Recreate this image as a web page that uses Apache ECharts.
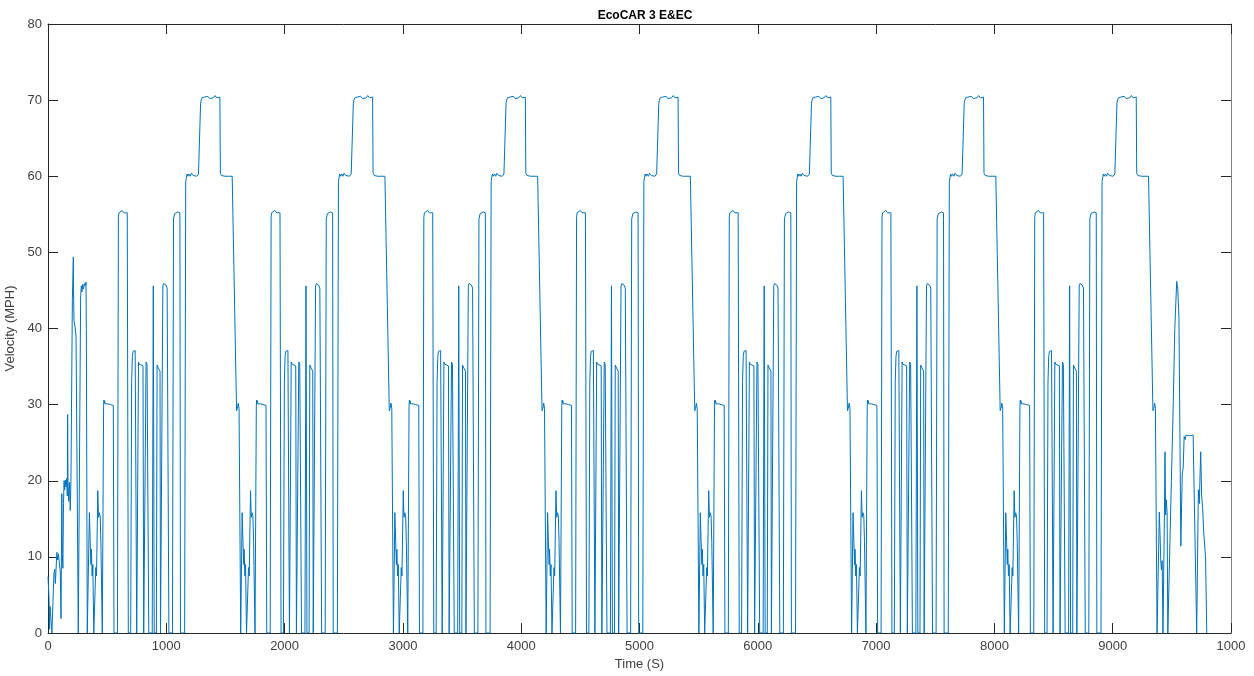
<!DOCTYPE html>
<html>
<head>
<meta charset="utf-8">
<script src="https://cdn.jsdelivr.net/npm/echarts@6/dist/echarts.min.js"></script>
<style>
  html, body { margin: 0; padding: 0; background: #fff; }
  #chart { width: 1254px; height: 676px; }
</style>
</head>
<body>
<div id="chart"></div>
<script>
// cold start at the beginning of the run: [time s, mph]
var coldStart = [
  [0, 7.4], [5, 7.3], [9, 4.5], [13, 0.5], [17, 3.5], [27, 3.3], [33, 0], [44, 0],
  [50, 7.8], [57, 8.4], [62, 6.5], [68, 8.3], [75, 10.6], [82, 9.6], [88, 10.4],
  [96, 10.3], [104, 8], [110, 1.9], [117, 18.3], [121, 10.3], [126, 8.5], [131, 17],
  [136, 20], [141, 18.8], [146, 20.1], [152, 19.2], [158, 20.3], [163, 18], [166, 28.7],
  [169, 20], [175, 17.3], [182, 19.8], [188, 16.1], [194, 20], [206, 43.8], [214, 49.4],
  [217, 43.5], [220, 41], [228, 40.3], [237, 39], [256, 0], [268, 0], [276, 44.3],
  [282, 45.6], [287, 44.8], [293, 45.8], [300, 45.2], [308, 45.9], [316, 45.6],
  [321, 46.1], [324, 40], [332, 0]
];

// one repeat of the cycle, time relative to the rise to the 30 mph step
var cycle = [
  [-124, 0], [-117, 15.8], [-110, 12], [-104, 9], [-100, 11], [-94, 7.5], [-88, 9], [-80, 0],
  [-68, 0], [-63, 8.6], [-57, 7.5], [-46, 18.7], [-40, 15.2], [-33, 15.8], [-26, 15.4],
  [-20, 12], [-8, 0],
  [0, 0], [3, 29.8], [6, 30.6], [9, 30.2], [12, 30.5], [16, 30.1], [40, 30.1], [60, 30.0],
  [85, 29.9], [91, 0],
  [120, 0], [128, 54.6], [133, 55.2], [145, 55.1], [160, 55.5], [175, 55.2], [190, 55.4],
  [203, 55.2], [212, 0],
  [232, 0], [240, 33], [246, 36.3], [252, 37], [270, 37.1], [276, 37], [283, 0],
  [292, 0], [298, 35.6], [305, 35.3], [336, 35.1], [342, 0],
  [356, 0], [362, 35.6], [370, 35.3], [380, 35.2], [385, 0],
  [414, 0], [423, 45.6], [431, 0],
  [449, 0], [455, 35.2], [466, 34.8], [480, 34.4], [484, 0],
  [496, 0], [504, 45.6], [510, 45.9], [530, 45.7], [540, 45.3], [550, 45.2], [555, 0],
  [585, 0], [594, 54.4], [604, 55.1], [630, 55.3], [648, 55.2], [653, 0],
  [688, 0], [697, 59.3], [702, 59.8], [708, 60.3], [715, 60.0], [725, 60.3], [735, 60.0],
  [745, 60.4], [760, 60.1], [775, 60.3], [790, 60.0], [805, 60.3], [818, 60.2],
  [823, 69.6], [828, 70.0], [835, 70.3], [845, 70.1], [855, 70.4], [870, 70.2], [885, 70.5],
  [900, 70.2], [915, 70.4], [930, 70.3], [945, 70.6], [960, 70.3], [975, 70.5], [986, 70.4],
  [990, 60.4], [1000, 60.1], [1015, 60.3], [1030, 60.0], [1045, 60.2], [1060, 60.0],
  [1075, 60.2], [1090, 60.0], [1099, 60.0], [1127, 29.2], [1134, 29.5], [1141, 30.2],
  [1148, 29.5], [1162, 0]
];

// time of the 30 mph step in each repeat
var cycleStarts = [467, 1758, 3049, 4340, 5631, 6922, 8213];

// the tail after the last repeat
var tail = [
  [9386, 0], [9394, 15.9], [9400, 13], [9406, 9.6], [9412, 8.3], [9418, 9.5], [9425, 0],
  [9432, 0], [9437, 15.5], [9442, 23.8], [9447, 15.5], [9453, 17.5], [9460, 15.8],
  [9466, 0], [9478, 0], [9496, 20], [9512, 30.2], [9525, 40], [9541, 46.2], [9550, 45.2],
  [9560, 41.5], [9576, 11.4], [9588, 20.9], [9596, 21.7], [9604, 25.8], [9612, 25.4],
  [9620, 26], [9650, 25.9], [9680, 26], [9696, 25.8], [9710, 0], [9724, 18.8], [9732, 17],
  [9744, 23.8], [9752, 18], [9760, 16.5], [9770, 13.1], [9785, 10], [9795, 0]
];

var xTicks = { min: 0, max: 10000, interval: 1000 };
var yTicks = { min: 0, max: 80, interval: 10 };

var speed = coldStart.slice();
cycleStarts.forEach(function (t0) {
  cycle.forEach(function (p) { speed.push([t0 + p[0], p[1]]); });
});
speed = speed.concat(tail);

var axisColor = '#262626';
var labelStyle = { color: '#404040', fontSize: 13, fontFamily: 'Liberation Sans, Arial, sans-serif' };

var chart = echarts.init(document.getElementById('chart'));
chart.setOption({
  animation: false,
  title: {
    text: 'EcoCAR 3 E&EC',
    left: 640,
    textAlign: 'center',
    top: 5,
    textStyle: { fontSize: 12, fontWeight: 'bold', color: '#000', fontFamily: 'Liberation Sans, Arial, sans-serif' }
  },
  grid: { left: 48, right: 23, top: 24, bottom: 43, containLabel: false, outerBoundsMode: 'none' },
  xAxis: [{
    type: 'value',
    min: xTicks.min, max: xTicks.max, interval: xTicks.interval,
    name: 'Time (S)', nameLocation: 'middle', nameGap: 22,
    nameTextStyle: labelStyle,
    axisLine: { lineStyle: { color: axisColor } },
    axisTick: { inside: true, length: 10, lineStyle: { color: axisColor } },
    axisLabel: Object.assign({ margin: 7, formatter: function (v) { return v === 10000 ? '1000' : String(v); } }, labelStyle),
    splitLine: { show: false }
  }, {
    type: 'value', position: 'top',
    min: xTicks.min, max: xTicks.max, interval: xTicks.interval,
    axisLine: { onZero: false, lineStyle: { color: axisColor } },
    axisTick: { inside: true, length: 10, lineStyle: { color: axisColor } },
    axisLabel: { show: false }, splitLine: { show: false }
  }],
  yAxis: [{
    type: 'value',
    min: yTicks.min, max: yTicks.max, interval: yTicks.interval,
    name: 'Velocity (MPH)', nameLocation: 'middle', nameGap: 24,
    nameTextStyle: labelStyle,
    axisLine: { show: true, lineStyle: { color: axisColor } },
    axisTick: { show: true, inside: true, length: 10, lineStyle: { color: axisColor } },
    axisLabel: Object.assign({ margin: 6 }, labelStyle),
    splitLine: { show: false }
  }, {
    type: 'value', position: 'right',
    min: yTicks.min, max: yTicks.max, interval: yTicks.interval,
    axisLine: { show: true, onZero: false, lineStyle: { color: '#808080' } },
    axisTick: { show: true, inside: true, length: 10, lineStyle: { color: axisColor } },
    axisLabel: { show: false }, splitLine: { show: false }
  }],
  series: [{
    type: 'line',
    data: speed,
    showSymbol: false,
    sampling: 'none',
    lineStyle: { color: '#0072BD', width: 1 },
    itemStyle: { color: '#0072BD' }
  }]
});
</script>
</body>
</html>
